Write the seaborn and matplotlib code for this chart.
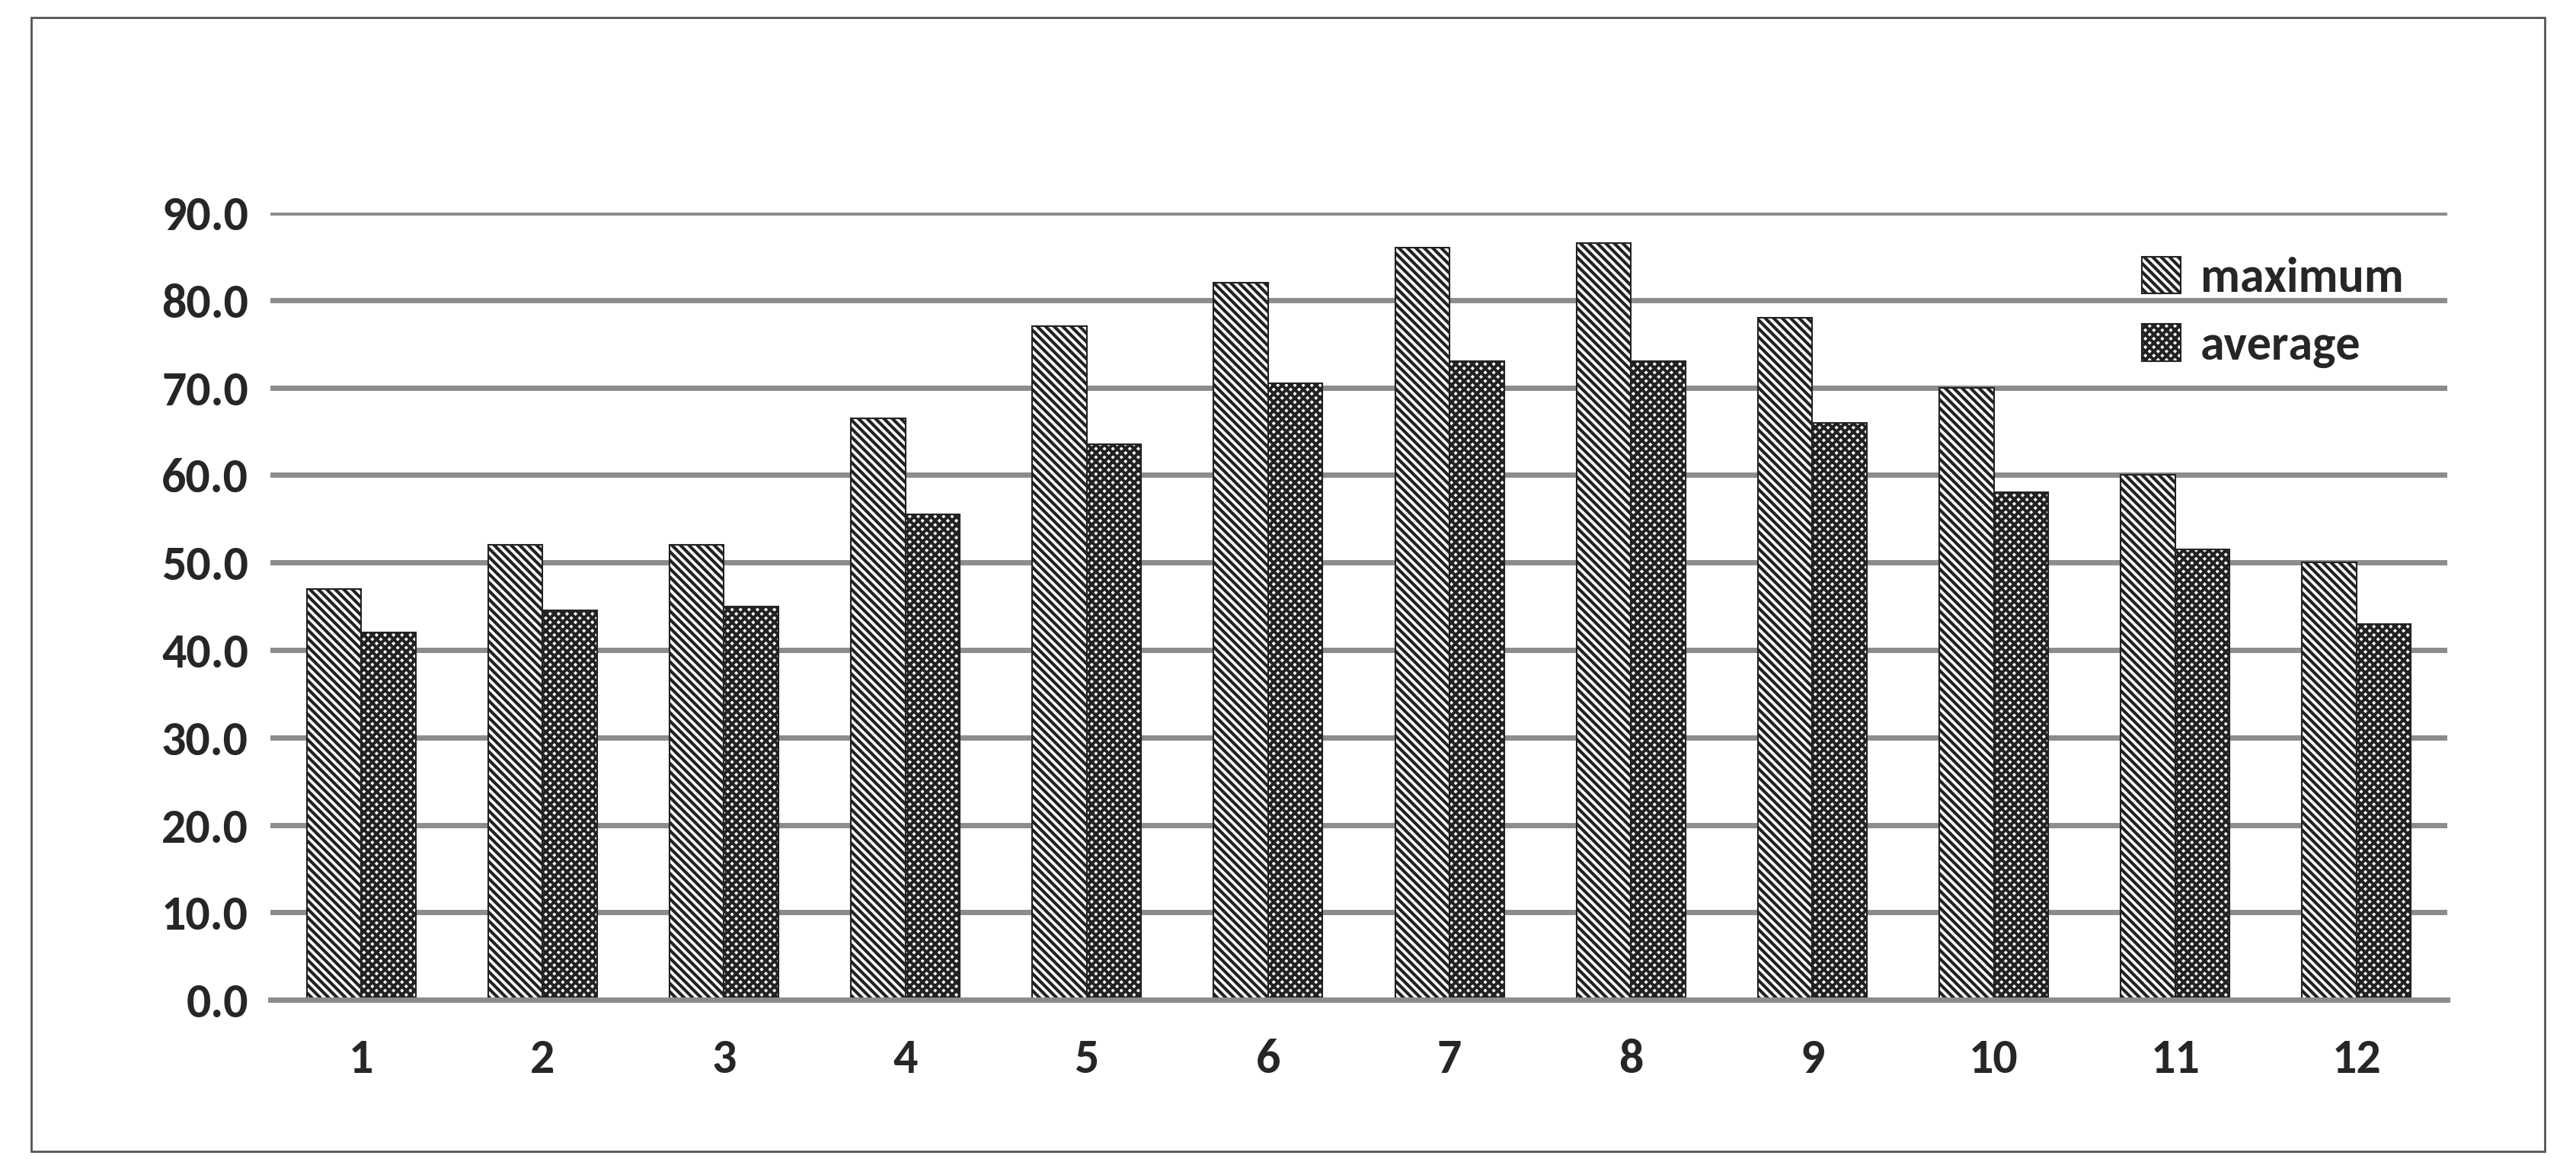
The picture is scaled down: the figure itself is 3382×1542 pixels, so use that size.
import matplotlib
matplotlib.use("Agg")
import matplotlib.pyplot as plt
import seaborn as sns
import pandas as pd
from matplotlib.patches import Rectangle

months = [str(i) for i in range(1, 13)]
maximum = [47.0, 52.0, 52.0, 66.5, 77.0, 82.0, 86.0, 86.5, 78.0, 70.0, 60.0, 50.0]
average = [42.0, 44.5, 45.0, 55.5, 63.5, 70.5, 73.0, 73.0, 66.0, 58.0, 51.5, 43.0]
yticks = [0, 10, 20, 30, 40, 50, 60, 70, 80, 90]

sns.set_theme(style="white")
plt.rcParams['font.family'] = ['Carlito', 'Lato', 'DejaVu Sans']
plt.rcParams['hatch.linewidth'] = 3.0

df = pd.DataFrame({"month": months * 2,
                   "value": maximum + average,
                   "series": ["maximum"] * 12 + ["average"] * 12})

fig = plt.figure(figsize=(33.82, 15.42), dpi=100)
fig.patches.append(Rectangle((0.012, 0.02), 0.976, 0.965, transform=fig.transFigure,
                             fill=False, edgecolor="#555555", linewidth=2))
ax = fig.add_axes([0.105, 0.149, 0.845, 0.67])
sns.barplot(data=df, x="month", y="value", hue="series", ax=ax,
            palette=["white", "white"], edgecolor="#222222", linewidth=1.5,
            width=0.6, gap=0.0, saturation=1)
hatches = ["\\\\\\", "xxx"]
for cont, h in zip(ax.containers, hatches):
    for bar in cont:
        bar.set_hatch(h)
ax.set_ylim(0, 90)
ax.set_yticks(yticks)
ax.set_yticklabels([f"{v:.1f}" for v in yticks], fontsize=46, fontweight="bold")
ax.tick_params(axis="x", labelsize=46, pad=30)
ax.tick_params(axis="y", pad=15)
for t in ax.get_xticklabels():
    t.set_fontweight("bold")
ax.yaxis.grid(True, color="#8c8c8c", linewidth=5)
ax.set_axisbelow(True)
for s in ["top", "right", "left"]:
    ax.spines[s].set_visible(False)
ax.spines["bottom"].set_color("#8c8c8c")
ax.spines["bottom"].set_linewidth(5)
ax.set_xlabel("")
ax.set_ylabel("")
leg = ax.legend(loc="upper right", bbox_to_anchor=(1.0, 1.0), frameon=False,
                prop={"size": 46, "weight": "bold"}, handlelength=0.8, handleheight=0.8,
                handletextpad=0.4, labelspacing=0.5)
for hnd, h in zip(leg.legend_handles, hatches):
    hnd.set_hatch(h)
    hnd.set_edgecolor("#222222")
fig.savefig("out.png", dpi=100)
